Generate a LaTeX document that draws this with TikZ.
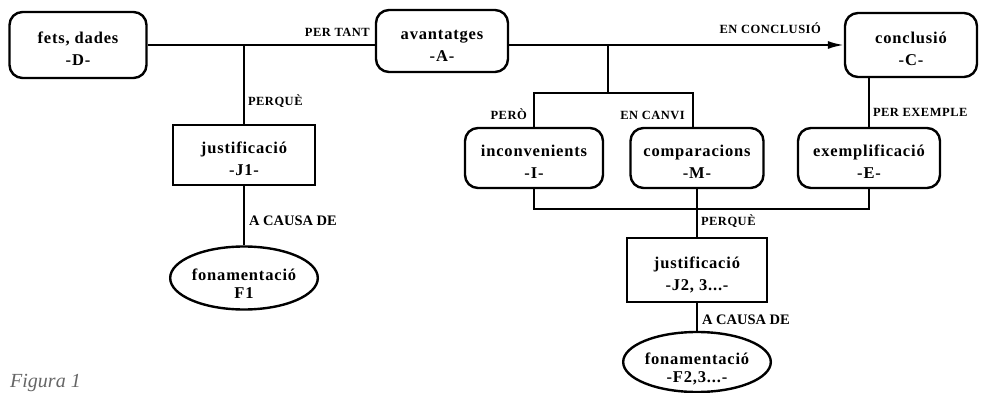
\documentclass[tikz,border=0pt]{standalone}
\usepackage{fontspec}
\setmainfont{Liberation Serif}
\newfontfamily\boxfont[LetterSpace=5]{Liberation Serif}
\newfontfamily\lblfont[LetterSpace=4]{Liberation Serif}
\usetikzlibrary{shapes.geometric,arrows.meta,positioning}

\begin{document}
\begin{tikzpicture}[
    x=1pt, y=-1pt,
    rbox/.style={rectangle, rounded corners=13pt, draw=black, line width=2.4pt, align=center,
                 font=\boxfont\bfseries\fontsize{16.5}{22}\selectfont, inner sep=0pt,
                 text height=41pt, text depth=0pt},
    sbox/.style={rbox, rounded corners=0pt},
    obox/.style={ellipse, draw=black, line width=2.4pt, align=center, inner sep=0pt,
                 font=\boxfont\bfseries\fontsize{16.5}{18}\selectfont,
                 text height=40pt, text depth=0pt},
    link/.style={line width=2pt, black},
    arr/.style={link, -{Latex[length=16pt, width=8pt]}},
    lbl/.style={font=\lblfont\bfseries\fontsize{12.5}{13}\selectfont, inner sep=0pt},
    biglbl/.style={font=\bfseries\fontsize{14.5}{15}\selectfont, inner sep=0pt}
]
\useasboundingbox (0,0) rectangle (985,393);

% ---- Top row ----
\node[rbox, minimum width=137pt, minimum height=66pt] (D) at (78,45) {fets, dades\\-D-};
\node[rbox, minimum width=132pt, minimum height=62pt] (A) at (442,41) {avantatges\\-A-};
\node[rbox, minimum width=132pt, minimum height=64pt] (C) at (911,45) {conclusió\\-C-};

\draw[link] (D.east) -- (D.east -| A.west)
    node[lbl, anchor=south east, xshift=-4pt, yshift=7pt] {PER TANT};
\draw[arr] (A.east |- C.west) -- (C.west)
    node[lbl, anchor=south east, xshift=-22pt, yshift=10pt] {EN CONCLUSIÓ};

% ---- Left branch ----
\node[sbox, minimum width=142pt, minimum height=60pt] (J1) at (244,155) {justificació\\-J1-};
\node[obox, minimum width=138pt, minimum height=63pt] (F1) at (244,278) {fonamentació\\F1};

\draw[link] (J1.north |- D.east) -- (J1.north)
    node[lbl, pos=0.71, anchor=west, xshift=3pt] {PERQUÈ};
\draw[link] (J1.south) -- (F1.north)
    node[biglbl, pos=0.58, anchor=west, xshift=4pt] {A CAUSA DE};

% ---- Right branch ----
\node[rbox, minimum width=138pt, minimum height=60pt] (I) at (534,158) {inconvenients\\-I-};
\node[rbox, minimum width=133pt, minimum height=60pt] (M) at (697,158) {comparacions\\-M-};
\node[rbox, minimum width=142pt, minimum height=60pt] (E) at (869,158) {exemplificació\\-E-};

\coordinate (split) at (608,45);
\coordinate (topbar) at (608,93);
\coordinate (botbar) at (0,209);

\draw[link] (split) -- (topbar);
\draw[link] (I.north) |- ([xshift=-4pt]M.north |- topbar) -- ([xshift=-4pt]M.north);
\node[lbl, anchor=south east] (pero) at (527,120) {PERÒ};
\node[lbl, anchor=south east] (encanvi) at (685,120) {EN CANVI};

\draw[link] (E.north) -- (E.north |- C.south)
    node[lbl, pos=0.3, anchor=west, xshift=3pt] {PER EXEMPLE};
\draw[link] (I.south) |- (E.south |- botbar) -- (E.south);

% ---- Lower justification ----
\node[sbox, minimum width=140pt, minimum height=64pt] (J2) at (697,270) {justificació\\-J2, 3...-};
\node[obox, minimum width=138pt, minimum height=60pt] (F2) at (697,362) {fonamentació\\-F2,3...-};

\draw[link] (M.south) -- (J2.north)
    node[lbl, pos=0.68, anchor=west, xshift=3pt] {PERQUÈ};
\draw[link] (J2.south) -- (F2.north)
    node[biglbl, pos=0.6, anchor=west, xshift=4pt] {A CAUSA DE};

% ---- Caption ----
\node[anchor=base west, inner sep=0pt, text=black!60, font=\itshape\fontsize{20}{20}\selectfont] (fig) at (10,387) {Figura 1};

\end{tikzpicture}
\end{document}
